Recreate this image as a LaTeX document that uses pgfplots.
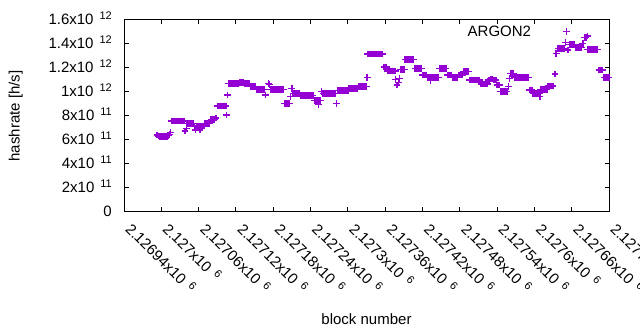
\documentclass[border=0pt]{standalone}
\usepackage{fontspec}
\setmainfont{Liberation Sans}
\usepackage{pgfplots}
\usepackage{pgfplotstable}
\pgfplotsset{compat=1.18}
\definecolor{argon}{HTML}{9400D3}
\newcommand\mainfs{\fontsize{15bp}{18bp}\selectfont}
\newcommand\supx[1]{\hspace{6bp}\raisebox{5bp}{\fontsize{11bp}{11bp}\selectfont #1}}
% b = block number - 2126940, v = hashrate [h/s]
\pgfplotstableread[row sep=\\]{
b v\\
53 6.33e11\\55 6.25e11\\57 6.19e11\\59 6.19e11\\61 6.19e11\\63 6.19e11\\65 6.19e11\\67 6.19e11\\69 6.19e11\\71 6.30e11\\73 6.35e11\\75 6.53e11\\
77 7.50e11\\79 7.50e11\\81 7.50e11\\83 7.50e11\\85 7.50e11\\87 7.50e11\\89 7.50e11\\91 7.50e11\\93 7.50e11\\95 7.50e11\\97 7.50e11\\
98 6.67e11\\100 6.90e11\\
101 7.30e11\\103 7.30e11\\105 7.30e11\\107 7.30e11\\109 7.30e11\\111 7.30e11\\
113 7.08e11\\115 6.75e11\\117 7.08e11\\119 7.08e11\\121 7.08e11\\122 6.75e11\\123 7.08e11\\125 7.08e11\\127 7.08e11\\129 7.08e11\\
130 7.30e11\\132 7.30e11\\134 7.30e11\\136 7.30e11\\138 7.30e11\\140 7.64e11\\142 7.64e11\\144 7.64e11\\146 7.64e11\\148 7.75e11\\
150 8.75e11\\152 8.75e11\\154 8.75e11\\156 8.75e11\\158 8.75e11\\160 8.75e11\\162 8.75e11\\164 8.75e11\\
165 8.0e11\\166 9.67e11\\
168 1.06e12\\170 1.06e12\\172 1.06e12\\174 1.06e12\\176 1.06e12\\178 1.06e12\\180 1.06e12\\182 1.06e12\\184 1.06e12\\
186 1.07e12\\188 1.07e12\\190 1.07e12\\192 1.07e12\\194 1.065e12\\196 1.065e12\\198 1.065e12\\200 1.065e12\\202 1.065e12\\
204 1.04e12\\206 1.04e12\\208 1.04e12\\210 1.04e12\\212 1.04e12\\
214 1.014e12\\216 1.014e12\\218 1.014e12\\220 1.014e12\\222 1.014e12\\224 1.014e12\\226 1.014e12\\
228 9.67e11\\232 1.06e12\\234 1.055e12\\
236 1.014e12\\238 1.014e12\\240 1.014e12\\242 1.014e12\\244 1.014e12\\246 1.014e12\\248 1.014e12\\250 1.014e12\\252 1.014e12\\254 1.014e12\\256 1.014e12\\
258 8.97e11\\260 8.97e11\\262 8.97e11\\264 8.97e11\\266 8.97e11\\
268 9.53e11\\270 1.022e12\\
272 9.8e11\\274 9.8e11\\276 9.8e11\\278 9.8e11\\280 9.8e11\\282 9.8e11\\
284 9.6e11\\286 9.6e11\\288 9.6e11\\290 9.6e11\\292 9.6e11\\294 9.6e11\\296 9.6e11\\298 9.6e11\\300 9.6e11\\302 9.6e11\\304 9.6e11\\
306 9.2e11\\308 9.2e11\\310 9.2e11\\312 9.2e11\\313 8.9e11\\314 9.2e11\\316 9.2e11\\
318 9.94e11\\
320 9.8e11\\322 9.8e11\\324 9.8e11\\326 9.8e11\\328 9.8e11\\330 9.8e11\\332 9.8e11\\334 9.8e11\\336 9.8e11\\338 9.8e11\\340 9.8e11\\
342 8.97e11\\
344 1.003e12\\346 1.003e12\\348 1.003e12\\350 1.003e12\\352 1.003e12\\354 1.003e12\\356 1.003e12\\358 1.003e12\\360 1.003e12\\
362 1.022e12\\364 1.022e12\\366 1.022e12\\368 1.022e12\\370 1.022e12\\372 1.022e12\\374 1.022e12\\376 1.022e12\\
378 1.04e12\\380 1.04e12\\382 1.04e12\\384 1.04e12\\386 1.04e12\\388 1.04e12\\390 1.04e12\\
391 1.114e12\\
392 1.308e12\\394 1.308e12\\396 1.308e12\\398 1.308e12\\400 1.308e12\\402 1.308e12\\404 1.308e12\\406 1.308e12\\408 1.308e12\\410 1.308e12\\412 1.308e12\\414 1.308e12\\416 1.308e12\\
418 1.2e12\\420 1.2e12\\422 1.2e12\\
424 1.167e12\\426 1.167e12\\428 1.167e12\\430 1.167e12\\432 1.167e12\\434 1.167e12\\436 1.167e12\\
437 1.097e12\\439 1.05e12\\441 1.07e12\\443 1.106e12\\
445 1.18e12\\447 1.18e12\\449 1.18e12\\451 1.18e12\\
452 1.264e12\\454 1.264e12\\456 1.264e12\\458 1.264e12\\460 1.264e12\\462 1.264e12\\464 1.264e12\\466 1.264e12\\
468 1.189e12\\470 1.189e12\\472 1.189e12\\474 1.189e12\\476 1.189e12\\478 1.189e12\\
480 1.133e12\\482 1.133e12\\484 1.133e12\\486 1.133e12\\
488 1.114e12\\490 1.114e12\\492 1.114e12\\493 1.09e12\\494 1.114e12\\496 1.114e12\\498 1.114e12\\500 1.114e12\\502 1.114e12\\504 1.114e12\\506 1.114e12\\
508 1.189e12\\510 1.189e12\\512 1.189e12\\514 1.189e12\\516 1.189e12\\518 1.189e12\\
520 1.133e12\\522 1.133e12\\524 1.133e12\\526 1.133e12\\
528 1.114e12\\530 1.114e12\\532 1.114e12\\534 1.114e12\\536 1.114e12\\
538 1.133e12\\540 1.133e12\\542 1.133e12\\544 1.133e12\\
546 1.161e12\\548 1.161e12\\550 1.161e12\\552 1.161e12\\554 1.161e12\\
556 1.092e12\\558 1.092e12\\560 1.092e12\\562 1.092e12\\564 1.092e12\\566 1.092e12\\568 1.092e12\\570 1.092e12\\572 1.092e12\\
574 1.058e12\\576 1.058e12\\578 1.058e12\\580 1.058e12\\582 1.058e12\\584 1.058e12\\
586 1.092e12\\588 1.092e12\\590 1.1e12\\592 1.1e12\\594 1.092e12\\596 1.092e12\\598 1.092e12\\
600 1.05e12\\602 1.05e12\\604 1.05e12\\
606 9.94e11\\608 9.94e11\\610 9.94e11\\612 9.94e11\\614 9.94e11\\616 9.94e11\\
618 1.04e12\\620 1.106e12\\622 1.147e12\\624 1.147e12\\626 1.147e12\\
628 1.114e12\\630 1.114e12\\632 1.114e12\\634 1.114e12\\636 1.114e12\\638 1.114e12\\640 1.114e12\\642 1.114e12\\644 1.114e12\\646 1.114e12\\648 1.114e12\\650 1.114e12\\
652 1.008e12\\654 1.008e12\\656 1.008e12\\
658 9.8e11\\660 9.8e11\\662 9.8e11\\664 9.8e11\\666 9.8e11\\668 9.8e11\\669 9.53e11\\
670 1.014e12\\672 1.014e12\\674 1.014e12\\676 1.014e12\\678 1.014e12\\680 1.014e12\\
682 1.042e12\\684 1.042e12\\686 1.042e12\\688 1.042e12\\690 1.042e12\\
693 1.142e12\\695 1.314e12\\
698 1.356e12\\700 1.356e12\\702 1.356e12\\704 1.356e12\\706 1.356e12\\708 1.356e12\\
710 1.403e12\\714 1.342e12\\
716 1.389e12\\718 1.389e12\\720 1.389e12\\722 1.389e12\\724 1.389e12\\
726 1.361e12\\728 1.361e12\\730 1.361e12\\732 1.361e12\\734 1.361e12\\736 1.361e12\\
738 1.397e12\\741 1.447e12\\743 1.447e12\\745 1.458e12\\
746 1.347e12\\748 1.347e12\\750 1.347e12\\752 1.347e12\\754 1.347e12\\756 1.347e12\\758 1.347e12\\760 1.347e12\\762 1.347e12\\
764 1.175e12\\766 1.175e12\\768 1.175e12\\770 1.175e12\\
772 1.114e12\\774 1.114e12\\776 1.114e12\\778 1.114e12\\780 1.114e12\\
}\argondata
\begin{document}
\begin{tikzpicture}
\begin{axis}[name=ax, scale only axis, width=485bp, height=192bp,
  xmin=0, xmax=780, ymin=0, ymax=1.6e12,
  xtick={0,60,120,180,240,300,360,420,480,540,600,660,720,780},
  xticklabels={{2.12694x10\supx{6}},{2.127x10\supx{6}},{2.12706x10\supx{6}},{2.12712x10\supx{6}},{2.12718x10\supx{6}},{2.12724x10\supx{6}},{2.1273x10\supx{6}},{2.12736x10\supx{6}},{2.12742x10\supx{6}},{2.12748x10\supx{6}},{2.12754x10\supx{6}},{2.1276x10\supx{6}},{2.12766x10\supx{6}},{2.12772x10\supx{6}}},
  ytick={0,2e11,4e11,6e11,8e11,1e12,1.2e12,1.4e12,1.6e12},
  yticklabels={0,{2x10\supx{11}},{4x10\supx{11}},{6x10\supx{11}},{8x10\supx{11}},{1x10\supx{12}},{1.2x10\supx{12}},{1.4x10\supx{12}},{1.6x10\supx{12}}},
  scaled x ticks=false, scaled y ticks=false,
  tick align=inside, tick pos=both, major tick length=4.5bp,
  tick style={black, line width=1bp},
  axis line style={black, line width=1bp},
  xticklabel style={xshift=0.5bp, yshift=-19bp, rotate=-45, anchor=base west, inner sep=0pt, font=\mainfs},
  yticklabel style={anchor=base east, inner sep=0pt, xshift=-12bp, yshift=-5.3bp, font=\mainfs},
  every axis x label/.style={at={(axis description cs:0.5,-0.59)}, anchor=base, font=\mainfs},
  every axis y label/.style={at={(axis description cs:-0.215,0.495)}, rotate=90, anchor=base, font=\mainfs},
  xlabel={block number}, ylabel={hashrate [h/s]},
  clip=false,
  legend plot pos=right,
  legend image code/.code={\path (0bp,0bp); \draw[#1] plot coordinates {(35bp,0bp)};},
  legend style={draw=none, fill=none, inner sep=0pt, outer sep=0pt, nodes={inner sep=0pt, text depth=0pt}, column sep=0pt, at={(axis description cs:0.9198,0.962)}, anchor=north east, font=\mainfs},
]
\addplot[only marks, mark=+, mark size=3.4bp, color=argon, line width=1.35bp]
  table[x=b, y=v] {\argondata};
\addlegendentry{ARGON2}
\end{axis}
\pgfresetboundingbox
\path ([shift={(-124bp,-119bp)}]ax.south west) rectangle ([shift={(31bp,19bp)}]ax.north east);
\end{tikzpicture}
\end{document}
